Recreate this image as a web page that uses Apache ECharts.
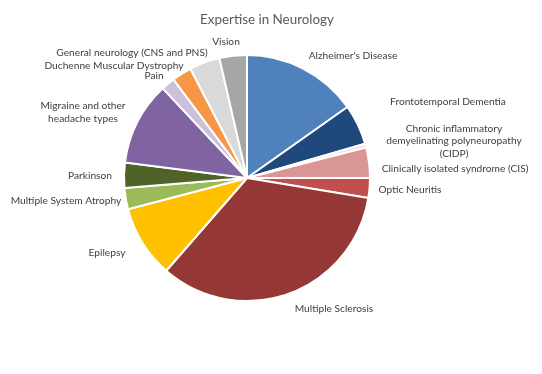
<!DOCTYPE html>
<html><head><meta charset="utf-8">
<script src="https://cdn.jsdelivr.net/npm/echarts@6/dist/echarts.min.js"></script>
<style>html,body{margin:0;padding:0;background:#fff}#c{width:542px;height:374px}</style>
</head><body><div id="c"></div>
<script>
const categories = ["Alzheimer's Disease","Frontotemporal Dementia","Chronic inflammatory\ndemyelinating polyneuropathy\n(CIDP)","Clinically isolated syndrome (CIS)","Optic Neuritis","Multiple Sclerosis","Epilepsy","Multiple System Atrophy","Parkinson","Migraine and other\nheadache types","Pain","Duchenne Muscular Dystrophy","General neurology (CNS and PNS)","Vision"];
const values = [15.2, 5.3, 0.5, 4.0, 2.6, 33.8, 9.5, 2.8, 3.3, 11.0, 1.8, 2.6, 4.0, 3.6];
const colors = ["#4F81BD","#1F497D","#F2DCDB","#D99694","#C0504D","#953735","#FFC000","#9BBB59","#4F6228","#8064A2","#CCC1DA","#F79646","#D9D9D9","#A6A6A6"];
const labelPos = [[353,56],[448,102],[454,141],[455,169],[410,190],[334,309],[107,253],[66,201],[90,176],[83,112],[154,76],[114,66],[132,53],[226,42]];

const chart = echarts.init(document.getElementById('c'));
chart.setOption({
  animation:false,
  title:{text:'Expertise in Neurology',left:262,top:8,textAlign:'center',textStyle:{fontFamily:'Lato',fontSize:13.4,fontWeight:'normal',color:'#595959'}},
  series:[{
    type:'pie',
    center:[247,178],
    radius:123,
    startAngle:90,
    clockwise:true,
    itemStyle:{borderColor:'#fff',borderWidth:2},
    label:{show:true,position:'outside',overflow:'none',fontFamily:'Lato',fontSize:10.2,color:'#404040',lineHeight:12.5,align:'center'},
    labelLine:{show:false},
    labelLayout:function(p){const q=labelPos[p.dataIndex];return {x:q[0],y:q[1],align:'center',verticalAlign:'middle'};},
    data:categories.map((n,i)=>({name:n,value:values[i],itemStyle:{color:colors[i]}}))
  }]
});
</script></body></html>
